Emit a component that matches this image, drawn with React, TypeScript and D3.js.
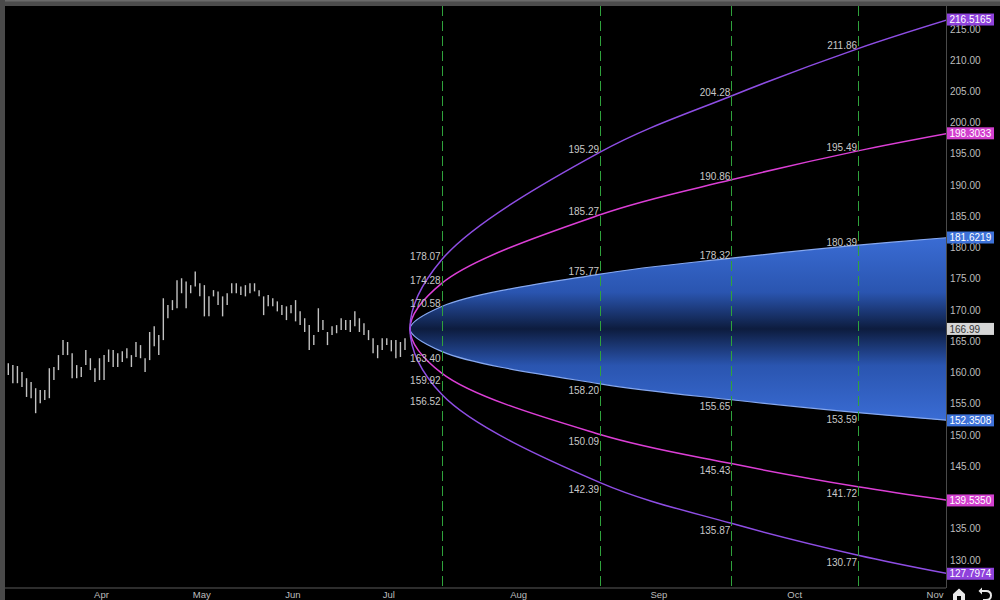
import React from 'react';
import * as d3 from 'd3';

// ---- Historical price bars (high / low) ----
const barHigh = [
  161.5, 161.2, 161.05, 160.1, 159.1, 158.5, 157.5, 157.2, 157.2, 160.7,
  160.9, 162.8, 165.2, 164.9, 163.1, 161.2, 160.9, 163.6, 162.3, 160.7,
  162.3, 162.8, 163.7, 163.6, 163.1, 163.4, 163.9, 162.8, 164.9, 164.4,
  162.3, 166.5, 167.4, 166.0, 171.9, 170.8, 171.6, 174.8, 175.1, 174.6,
  174.0, 176.2, 174.3, 174.0, 172.2, 173.2, 173.0, 172.2, 172.7, 174.3,
  174.3, 173.8, 174.0, 174.3, 174.3, 173.2, 172.2, 172.4, 171.9, 171.4,
  170.8, 170.6, 170.8, 171.6, 169.8, 168.7, 167.6, 166.0, 170.3, 168.4,
  166.5, 167.4, 167.6, 168.7, 168.4, 168.4, 169.8, 168.7, 167.9, 166.8,
  165.5, 164.4, 165.5, 165.5, 165.2, 165.2, 164.9, 165.5,
];
const barLow = [
  159.6, 158.3, 158.3, 157.7, 156.1, 155.9, 153.5, 155.1, 155.6, 155.9,
  158.8, 160.4, 162.8, 162.8, 159.1, 159.1, 159.3, 161.2, 160.4, 158.5,
  158.8, 158.8, 161.7, 160.9, 160.9, 161.7, 162.3, 160.9, 162.5, 162.3,
  160.1, 162.0, 164.2, 162.8, 165.2, 168.7, 170.0, 170.3, 172.7, 170.3,
  172.7, 173.8, 172.2, 169.0, 169.0, 172.2, 170.8, 169.0, 170.8, 172.7,
  172.7, 172.4, 172.2, 172.7, 173.0, 172.2, 169.2, 170.6, 170.6, 169.8,
  169.2, 168.4, 169.5, 168.2, 167.6, 166.5, 163.6, 164.4, 166.5, 166.8,
  164.4, 166.0, 166.3, 166.8, 166.8, 166.5, 167.4, 166.5, 166.0, 165.2,
  163.1, 162.3, 163.6, 164.4, 163.4, 162.3, 162.5, 163.6,
];

// month ticks of the historical part (bar index of first session of the month)
const pastMonthLabels = ['Apr', 'May', 'Jun', 'Jul'];
const pastMonthBarIndex = [20, 42, 62, 83];

// month ticks of the projection part
const futureMonthLabels = ['Aug', 'Sep', 'Oct', 'Nov'];
const futureMonthDates = [
  new Date(2011, 7, 1), new Date(2011, 8, 1), new Date(2011, 9, 1), new Date(2011, 10, 1),
];

// ---- Projection cone ----
const lastPrice = 166.99;
const coneStartDate = new Date(2011, 6, 8);
const expiryDates = [
  new Date(2011, 6, 15), new Date(2011, 7, 19), new Date(2011, 8, 17), new Date(2011, 9, 15),
];
const coneEndDate = new Date(2011, 10, 4);

const outerUpper = [178.07, 195.29, 204.28, 211.86, 216.5165];
const midUpper = [174.28, 185.27, 190.86, 195.49, 198.3033];
const innerUpper = [170.58, 175.77, 178.32, 180.39, 181.6219];
const innerLower = [163.40, 158.20, 155.65, 153.59, 152.3508];
const midLower = [159.92, 150.09, 145.43, 141.72, 139.5350];
const outerLower = [156.52, 142.39, 135.87, 130.77, 127.7974];

const W = 1000;
const H = 600;
const plotLeft = 5;
const plotRight = 946;
const plotTop = 6;
const plotBottom = 588;

const PURPLE = '#8e4ee4';
const MAGENTA = '#dc3fd6';
const FONT = '"Liberation Sans", Arial, sans-serif';

export default function App() {
  const y = d3.scaleLinear().domain([130, 215]).range([560, 29]);
  const xBar = d3.scaleLinear().domain([0, barHigh.length - 1]).range([8.3, 405]);
  const xF = d3.scaleTime().domain([coneStartDate, new Date(2011, 10, 1)]).range([410, 935]);

  const coneDates = [...expiryDates, coneEndDate];
  type P = [number, number];
  const bandPoints = (upper: number[], lower: number[]): P[] => {
    const lo: P[] = lower.map((v, i) => [xF(coneDates[i]), y(v)] as P).reverse();
    const up: P[] = upper.map((v, i) => [xF(coneDates[i]), y(v)] as P);
    return [...lo, [xF(coneStartDate), y(lastPrice)], ...up];
  };
  const line = d3.line<P>().curve(d3.curveCatmullRom.alpha(0.5));

  const outerPath = line(bandPoints(outerUpper, outerLower)) || '';
  const midPath = line(bandPoints(midUpper, midLower)) || '';
  const innerPath = line(bandPoints(innerUpper, innerLower)) || '';
  const innerFill = innerPath + 'Z';

  const gTop = y(d3.max(innerUpper) as number);
  const gBot = y(d3.min(innerLower) as number);

  const seriesLabels: { vals: number[]; upper: boolean }[] = [
    { vals: outerUpper, upper: true },
    { vals: midUpper, upper: true },
    { vals: innerUpper, upper: true },
    { vals: innerLower, upper: false },
    { vals: midLower, upper: false },
    { vals: outerLower, upper: false },
  ];

  const boxes = [
    { v: outerUpper[4], fill: '#8f42dc', text: '#fff', label: outerUpper[4].toFixed(4) },
    { v: midUpper[4], fill: '#d23fce', text: '#fff', label: midUpper[4].toFixed(4) },
    { v: innerUpper[4], fill: '#3d72d9', text: '#fff', label: innerUpper[4].toFixed(4) },
    { v: lastPrice, fill: '#d6d6d6', text: '#333', label: lastPrice.toFixed(2) },
    { v: innerLower[4], fill: '#3d72d9', text: '#fff', label: innerLower[4].toFixed(4) },
    { v: midLower[4], fill: '#d23fce', text: '#fff', label: midLower[4].toFixed(4) },
    { v: outerLower[4], fill: '#8f42dc', text: '#fff', label: outerLower[4].toFixed(4) },
  ];

  // tick labels fully covered by a value box are hidden, as in the reference
  const yTicks = y.ticks(18).filter((t) => !boxes.some((b) => Math.abs(y(b.v) - y(t)) < 5));

  return (
    <div style={{ position: 'fixed', left: 0, top: 0, width: W, height: H, background: '#000' }}>
      <svg width={W} height={H} style={{ display: 'block', fontFamily: FONT }}>
        <defs>
          <clipPath id="plotClip">
            <rect x={plotLeft} y={plotTop} width={plotRight - plotLeft} height={plotBottom - plotTop} />
          </clipPath>
          <linearGradient id="coneGrad" gradientUnits="userSpaceOnUse" x1={0} x2={0} y1={gTop} y2={gBot}>
            <stop offset="0" stopColor="#3a6cd4" />
            <stop offset="0.3" stopColor="#2a55b0" />
            <stop offset="0.5" stopColor="#0d1c3e" />
            <stop offset="0.7" stopColor="#2a55b0" />
            <stop offset="1" stopColor="#3a6cd4" />
          </linearGradient>
        </defs>
        <rect x={0} y={0} width={W} height={H} fill="#000" />

        {/* frame */}
        <rect x={0} y={0} width={W} height={plotTop} fill="#4c4c4c" />
        <rect x={0} y={0} width={W} height={1.5} fill="#6a6a6a" />
        <rect x={0} y={0} width={plotLeft} height={H} fill="#4a4a4a" />
        <line x1={plotLeft} x2={plotRight} y1={plotBottom} y2={plotBottom} stroke="#3c3c3c" strokeWidth={1.5} />
        <line x1={plotRight + 0.5} x2={plotRight + 0.5} y1={plotTop} y2={plotBottom} stroke="#4a4a4a" strokeWidth={1} />

        <g clipPath="url(#plotClip)">
          {/* blue cone */}
          <path d={innerFill} fill="url(#coneGrad)" />
          <path d={innerPath} fill="none" stroke="#86a8f0" strokeWidth={1.2} />
          {/* outer curves */}
          <path d={midPath} fill="none" stroke={MAGENTA} strokeWidth={1.5} />
          <path d={outerPath} fill="none" stroke={PURPLE} strokeWidth={1.5} />

          {/* expiry dashed lines */}
          {expiryDates.map((d, i) => (
            <line key={i} x1={Math.round(xF(d)) + 0.5} x2={Math.round(xF(d)) + 0.5} y1={plotTop} y2={plotBottom}
              stroke="#2fa23c" strokeWidth={1} strokeDasharray="10,5" />
          ))}

          {/* price bars */}
          {barHigh.map((h, i) => (
            <line key={i} x1={xBar(i)} x2={xBar(i)} y1={y(h)} y2={y(barLow[i])} stroke="#c2c2c2" strokeWidth={1.4} />
          ))}

          {/* cone labels */}
          {seriesLabels.map((s, si) =>
            expiryDates.map((d, i) => (
              <text key={si + '-' + i} x={xF(d) - 1} y={y(s.vals[i]) + (s.upper ? 0.5 : 10.5)}
                textAnchor="end" fontSize={10} fill="#c8c8c8">{s.vals[i].toFixed(2)}</text>
            ))
          )}
        </g>

        {/* right axis */}
        {yTicks.map((t) => (
          <text key={t} x={950} y={y(t) + 3.5} fontSize={10} fill="#bdbdbd">{t.toFixed(2)}</text>
        ))}
        {boxes.map((b, i) => (
          <g key={i}>
            <rect x={947} y={y(b.v) - 6} width={47} height={12} fill={b.fill} />
            <text x={949.5} y={y(b.v) + 3.6} fontSize={10} fill={b.text}>{b.label}</text>
          </g>
        ))}

        {/* bottom axis */}
        {pastMonthLabels.map((m, i) => (
          <text key={m} x={xBar(pastMonthBarIndex[i]) + 2} y={598} textAnchor="middle" fontSize={9.5} fill="#bdbdbd">{m}</text>
        ))}
        {futureMonthLabels.map((m, i) => (
          <text key={m} x={xF(futureMonthDates[i])} y={598} textAnchor="middle" fontSize={9.5} fill="#bdbdbd">{m}</text>
        ))}

        {/* home / undo icons */}
        <path d="M953,600 L953,594 L959,588.5 L965,594 L965,600 L961,600 L961,596 L957,596 L957,600 Z" fill="#e8e8e8" />
        <path d="M980,591 L986,591 Q991,591 991,595.5 Q991,600 986,600 L983,600" fill="none" stroke="#e8e8e8" strokeWidth={2} />
        <path d="M982,587.5 L978.5,591 L982,594.5 Z" fill="#e8e8e8" />
      </svg>
    </div>
  );
}
